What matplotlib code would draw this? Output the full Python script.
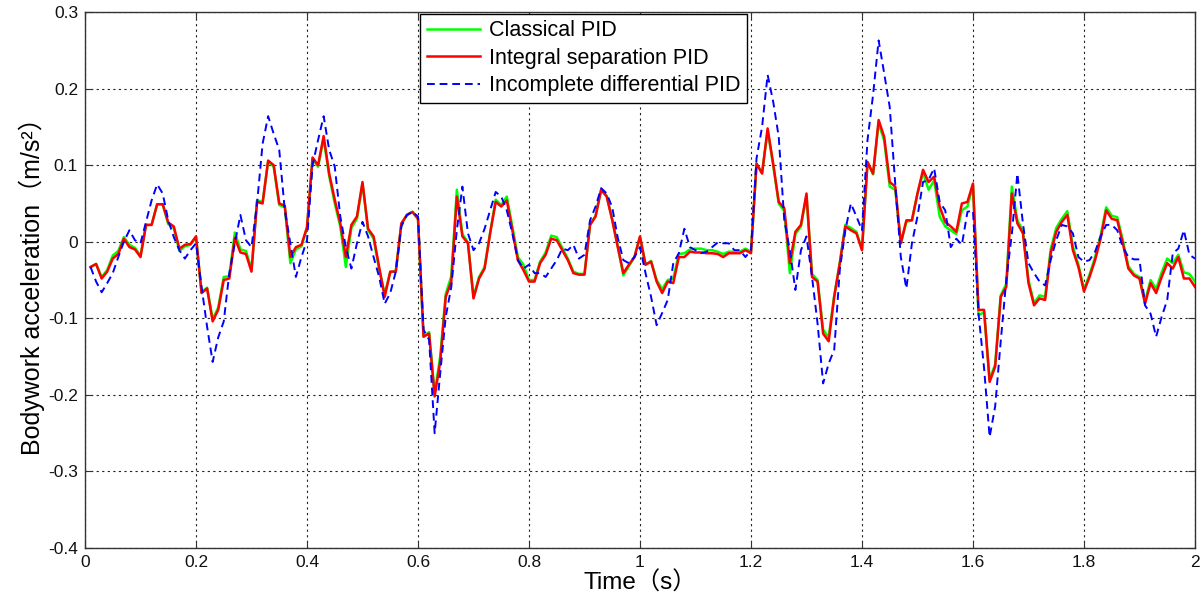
import numpy as np
import matplotlib
matplotlib.use("Agg")
import matplotlib.pyplot as plt

# ---------------- data ----------------
time = np.round(np.arange(1, 201) * 0.01, 2)

integral_sep = [
    -0.033, -0.029, -0.048, -0.039, -0.022, -0.016, 0.004, -0.007, -0.010, -0.020,
    0.022, 0.022, 0.049, 0.049, 0.025, 0.020, -0.009, -0.004, -0.003, 0.007,
    -0.067, -0.061, -0.104, -0.089, -0.050, -0.048, 0.005, -0.014, -0.016, -0.039,
    0.052, 0.050, 0.106, 0.100, 0.050, 0.047, -0.020, -0.007, -0.004, 0.019,
    0.110, 0.100, 0.138, 0.089, 0.055, 0.024, -0.020, 0.022, 0.033, 0.078,
    0.017, 0.007, -0.033, -0.072, -0.039, -0.039, 0.024, 0.035, 0.039, 0.030,
    -0.124, -0.120, -0.202, -0.157, -0.072, -0.052, 0.059, 0.007, -0.002, -0.074,
    -0.048, -0.035, 0.011, 0.052, 0.046, 0.054, 0.015, -0.024, -0.037, -0.052,
    -0.052, -0.028, -0.017, 0.004, 0.002, -0.011, -0.024, -0.041, -0.043, -0.043,
    0.022, 0.033, 0.068, 0.059, 0.028, -0.007, -0.041, -0.030, -0.020, 0.007,
    -0.030, -0.026, -0.052, -0.067, -0.052, -0.054, -0.020, -0.020, -0.013, -0.014,
    -0.014, -0.015, -0.015, -0.016, -0.020, -0.015, -0.015, -0.015, -0.011, -0.015,
    0.102, 0.089, 0.148, 0.102, 0.052, 0.044, -0.028, 0.013, 0.022, 0.063,
    -0.046, -0.052, -0.120, -0.130, -0.072, -0.028, 0.020, 0.015, 0.011, -0.011,
    0.104, 0.089, 0.159, 0.137, 0.078, 0.072, -0.002, 0.028, 0.028, 0.063,
    0.094, 0.078, 0.085, 0.046, 0.026, 0.020, 0.013, 0.050, 0.052, 0.076,
    -0.089, -0.089, -0.183, -0.163, -0.072, -0.059, 0.063, 0.024, 0.011, -0.054,
    -0.083, -0.074, -0.076, -0.015, 0.013, 0.026, 0.035, -0.011, -0.033, -0.065,
    -0.046, -0.024, 0.004, 0.041, 0.030, 0.028, -0.002, -0.035, -0.044, -0.048,
    -0.081, -0.054, -0.067, -0.046, -0.028, -0.035, -0.020, -0.048, -0.048, -0.059,
]

classical = [
    -0.033, -0.029, -0.046, -0.037, -0.018, -0.012, 0.006, -0.004, -0.008, -0.018,
    0.022, 0.022, 0.049, 0.049, 0.023, 0.018, -0.012, -0.006, -0.004, 0.006,
    -0.066, -0.060, -0.101, -0.086, -0.046, -0.045, 0.012, -0.010, -0.012, -0.036,
    0.054, 0.052, 0.105, 0.098, 0.048, 0.045, -0.028, -0.010, -0.006, 0.018,
    0.108, 0.098, 0.135, 0.086, 0.050, 0.020, -0.033, 0.018, 0.030, 0.076,
    0.015, 0.004, -0.036, -0.068, -0.040, -0.038, 0.022, 0.035, 0.039, 0.030,
    -0.124, -0.118, -0.198, -0.150, -0.068, -0.045, 0.068, 0.010, -0.001, -0.072,
    -0.046, -0.033, 0.012, 0.055, 0.048, 0.059, 0.020, -0.020, -0.030, -0.050,
    -0.050, -0.026, -0.014, 0.008, 0.006, -0.008, -0.022, -0.039, -0.042, -0.042,
    0.022, 0.034, 0.068, 0.060, 0.030, -0.006, -0.044, -0.032, -0.020, 0.006,
    -0.030, -0.025, -0.050, -0.062, -0.050, -0.048, -0.016, -0.015, -0.010, -0.009,
    -0.009, -0.011, -0.011, -0.013, -0.016, -0.013, -0.013, -0.013, -0.009, -0.013,
    0.102, 0.090, 0.145, 0.100, 0.050, 0.040, -0.041, 0.010, 0.020, 0.060,
    -0.042, -0.050, -0.115, -0.125, -0.070, -0.028, 0.022, 0.018, 0.013, -0.010,
    0.104, 0.088, 0.155, 0.132, 0.072, 0.068, -0.002, 0.026, 0.028, 0.063,
    0.090, 0.068, 0.080, 0.033, 0.020, 0.015, 0.010, 0.041, 0.046, 0.074,
    -0.096, -0.092, -0.180, -0.160, -0.070, -0.055, 0.072, 0.028, 0.014, -0.050,
    -0.080, -0.070, -0.072, -0.010, 0.018, 0.030, 0.040, -0.006, -0.030, -0.062,
    -0.043, -0.020, 0.008, 0.045, 0.034, 0.032, 0.002, -0.032, -0.042, -0.046,
    -0.078, -0.050, -0.062, -0.040, -0.022, -0.028, -0.017, -0.040, -0.042, -0.052,
]

incomplete_diff = [
    -0.033, -0.052, -0.066, -0.054, -0.041, -0.020, 0.000, 0.015, 0.002, -0.002,
    0.026, 0.054, 0.075, 0.063, 0.028, 0.006, -0.011, -0.022, -0.011, -0.002,
    -0.059, -0.111, -0.157, -0.125, -0.104, -0.041, -0.002, 0.035, 0.002, -0.007,
    0.050, 0.128, 0.164, 0.141, 0.120, 0.041, -0.002, -0.046, -0.020, 0.002,
    0.100, 0.133, 0.164, 0.120, 0.098, 0.033, -0.007, -0.035, -0.002, 0.026,
    0.007, -0.020, -0.046, -0.081, -0.067, -0.039, 0.020, 0.035, 0.039, 0.033,
    -0.115, -0.128, -0.250, -0.172, -0.098, -0.059, 0.015, 0.072, 0.011, -0.011,
    -0.002, 0.017, 0.041, 0.065, 0.059, 0.041, 0.011, -0.024, -0.035, -0.030,
    -0.041, -0.041, -0.046, -0.035, -0.024, -0.009, -0.011, -0.004, -0.022, -0.017,
    0.028, 0.046, 0.070, 0.063, 0.045, 0.005, -0.024, -0.028, -0.020, -0.007,
    -0.041, -0.072, -0.109, -0.093, -0.076, -0.028, -0.015, 0.017, -0.007, -0.011,
    -0.015, -0.013, -0.007, -0.001, -0.002, -0.002, -0.011, -0.011, -0.020, -0.011,
    0.109, 0.150, 0.218, 0.183, 0.137, 0.028, -0.011, -0.063, -0.011, 0.007,
    -0.046, -0.107, -0.185, -0.159, -0.141, -0.037, 0.015, 0.050, 0.033, 0.015,
    0.133, 0.192, 0.263, 0.220, 0.176, 0.075, -0.020, -0.061, -0.002, 0.033,
    0.078, 0.081, 0.096, 0.052, 0.041, -0.007, 0.004, -0.004, 0.039, 0.041,
    -0.094, -0.165, -0.255, -0.215, -0.130, -0.050, 0.010, 0.089, 0.024, -0.028,
    -0.041, -0.052, -0.057, -0.024, 0.002, 0.022, 0.020, 0.011, -0.020, -0.026,
    -0.024, -0.013, 0.007, 0.022, 0.022, 0.015, -0.007, -0.020, -0.023, -0.023,
    -0.083, -0.094, -0.124, -0.098, -0.076, -0.015, -0.009, 0.015, -0.017, -0.022,
]

series_names = ["Classical PID", "Integral separation PID", "Incomplete differential PID"]
x_ticks = [0, 0.2, 0.4, 0.6, 0.8, 1.0, 1.2, 1.4, 1.6, 1.8, 2.0]
x_tick_labels = ["0", "0.2", "0.4", "0.6", "0.8", "1", "1.2", "1.4", "1.6", "1.8", "2"]
y_ticks = [-0.4, -0.3, -0.2, -0.1, 0, 0.1, 0.2, 0.3]
y_tick_labels = ["-0.4", "-0.3", "-0.2", "-0.1", "0", "0.1", "0.2", "0.3"]

# ---------------- figure ----------------
plt.rcParams['font.family'] = ['Liberation Sans', 'Noto Sans CJK SC', 'DejaVu Sans']

fig = plt.figure(figsize=(12.04, 6.03), dpi=100)
ax = fig.add_axes([0.0706, 0.0912, 0.9219, 0.8888])

ax.plot(time, classical, color=(0, 1, 0), lw=1.8, label=series_names[0], zorder=3)
ax.plot(time, integral_sep, color=(1, 0, 0), lw=1.8, label=series_names[1], zorder=4)
ax.plot(time, incomplete_diff, color=(0, 0, 1), lw=1.4, ls=(0, (4, 2.5)),
        label=series_names[2], zorder=5)

ax.set_xlim(0, 2)
ax.set_ylim(-0.4, 0.3)
ax.set_xticks(x_ticks)
ax.set_xticklabels(x_tick_labels)
ax.set_yticks(y_ticks)
ax.set_yticklabels(y_tick_labels)

ax.grid(True, color='#222222', ls=(0, (2, 3)), lw=0.8)
ax.tick_params(direction='in', top=True, right=True, length=5, width=0.8,
               labelsize=12.5, colors='#333333', labelcolor='#111111', pad=5)
for s in ax.spines.values():
    s.set_linewidth(1.0)
    s.set_color('#333333')

ax.set_xlabel("Time（s）", fontsize=17.5, labelpad=1)
ax.set_ylabel("Bodywork acceleration（m/s²）", fontsize=18, labelpad=2)

leg = ax.legend(loc='upper left', bbox_to_anchor=(0.302, 0.997), borderaxespad=0,
                fontsize=15.5, fancybox=False, framealpha=1, edgecolor='black',
                handlelength=2.5, labelspacing=0.3, handletextpad=0.4,
                borderpad=0.3)
leg.get_frame().set_linewidth(1.0)

fig.savefig("out.png", dpi=100)
